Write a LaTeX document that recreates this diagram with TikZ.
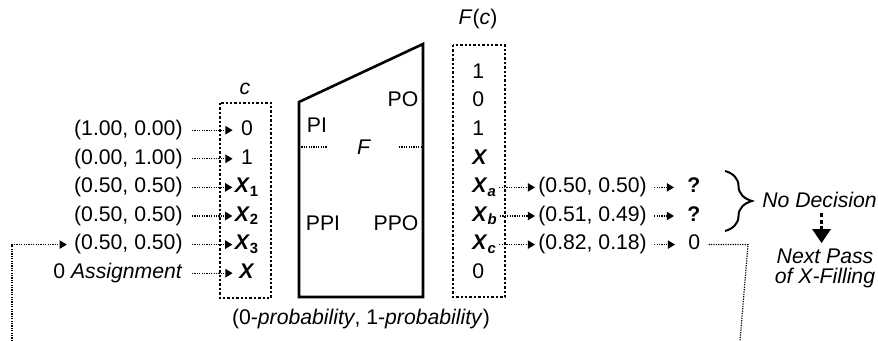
\documentclass[tikz,border=0pt]{standalone}
\usepackage{fontspec}
\setmainfont{Liberation Sans}
\usetikzlibrary{arrows.meta,decorations.pathreplacing}
\newcommand{\bX}{\textbf{\textit{X}}}
\begin{document}
\begin{tikzpicture}[x=0.5pt,y=-0.5pt,
  every node/.style={font=\fontsize{10.6}{10}\selectfont, inner sep=0pt},
  row/.style={text height=7.6pt, text depth=2.2pt},
  lval/.style={row, minimum width=12pt, anchor=center},
  rval/.style={row, anchor=west},
  dotln/.style={line width=0.6pt, dash pattern=on 0.6pt off 0.6pt},
  dotarr/.style={dotln, -{Triangle[width=4.2pt,length=3.6pt]}},
  dotbox/.style={line width=1.2pt, dash pattern=on 1.2pt off 1pt},
  thinsep/.style={line width=0.6pt, dash pattern=on 0.6pt off 0.6pt}
]
\useasboundingbox (0,0) rectangle (878,341);

% ---- left labels
\node[row, anchor=east] (l1) at (183,130.2) {(1.00, 0.00)};
\node[row, anchor=east] (l2) at (183,158.8) {(0.00, 1.00)};
\node[row, anchor=east] (l3) at (183,187.4) {(0.50, 0.50)};
\node[row, anchor=east] (l4) at (183,216.0) {(0.50, 0.50)};
\node[row, anchor=east] (l5) at (183,244.6) {(0.50, 0.50)};
\node[row, anchor=east] (l6) at (183,273.2) {0 \textit{Assignment}};

% ---- left box c
\draw[dotbox] (220,103) rectangle (271,298);
\node (clab) at (245,89) {\textit{c}};
\node[lval] (v1) at (247,130.2) {0};
\node[lval] (v2) at (247,158.8) {1};
\node[lval] (v3) at (247,187.4) {\bX\textsubscript{\textbf{1}}};
\node[lval] (v4) at (247,216.0) {\bX\textsubscript{\textbf{2}}};
\node[lval] (v5) at (247,244.6) {\bX\textsubscript{\textbf{3}}};
\node[lval] (v6) at (247,273.2) {\bX};

\foreach \i in {1,...,6}{
  \draw[dotarr] ([xshift=4.5pt]l\i.east) -- ([xshift=-1pt]l\i.east -| v\i.west);
}

% ---- circuit F
\draw[line width=1.3pt, line join=miter] (299,297) -- (299,102) -- (423,44) -- (423,297) -- cycle;
\node (pi) at (317,125) {PI};
\node (po) at (403,99) {PO};
\node (f) at (364,147) {\textit{F}};
\node (ppi) at (323,223) {PPI};
\node (ppo) at (396,223) {PPO};
\draw[thinsep] (299,147) -- (327,147);
\draw[thinsep] (399,147) -- (423,147);
\node (cap) at (361,319) {(0-\textit{probability}, 1-\textit{probability})};

% ---- right box F(c)
\draw[dotbox] (453,45) rectangle (505,297);
\node (fclab) at (478,19) {\textit{F}(\textit{c})};
\node[rval] (r0) at (472,73.0) {1};
\node[rval] (r1) at (472,101.6) {0};
\node[rval] (r2) at (472,130.2) {1};
\node[rval] (r3) at (472,158.8) {\bX};
\node[rval] (ra) at (472,187.4) {\bX\textsubscript{\textbf{\textit{a}}}};
\node[rval] (rb) at (472,216.0) {\bX\textsubscript{\textbf{\textit{b}}}};
\node[rval] (rc) at (472,244.6) {\bX\textsubscript{\textbf{\textit{c}}}};
\node[rval] (r7) at (472,273.2) {0};

% ---- probabilities and decisions
\node[rval] (pa) at (538,187.4) {(0.50, 0.50)};
\node[rval] (pb) at (538,216.0) {(0.51, 0.49)};
\node[rval] (pc) at (538,244.6) {(0.82, 0.18)};
\node[rval] (qa) at (687,187.4) {\textbf{?}};
\node[rval] (qb) at (687,216.0) {\textbf{?}};
\node[rval] (qc) at (688,244.6) {0};

\foreach \s in {a,b,c}{
  \draw[dotarr] ([xshift=1pt]r\s.east) -- ([xshift=-1.5pt]r\s.east -| p\s.west);
}
\draw[dotarr] ([xshift=3.5pt]pa.east) -- ([xshift=-6.5pt]pa.east -| qa.west);
\draw[dotarr] ([xshift=3.5pt]pb.east) -- ([xshift=-6.5pt]pb.east -| qb.west);
\draw[dotarr] ([xshift=3.5pt]pc.east) -- ([xshift=-6.5pt]pc.east -| qc.west);

% ---- feedback
\coordinate (fbR) at (740,341);
\coordinate (fbL) at (12,341);
\draw[dotln] ([xshift=4pt]qc.east) -- ([xshift=4pt]qc.east -| fbR) -- (fbR);
\draw[dotarr] (fbL) |- ([xshift=-3.5pt]l5.west);

% ---- brace and next pass
\draw[line width=1pt, decorate, decoration={brace, amplitude=13.5pt}] (725,171) -- (725,231);
\node[row, anchor=west] (nd) at (762,202) {\textit{No Decision}};
\node[align=center, font=\fontsize{10.6}{10}\selectfont\itshape] (np) at (825,268) {Next Pass\\of X-Filling};
\draw[line width=1.5pt, dash pattern=on 2pt off 1.2pt, -{Triangle[width=9pt,length=7pt]}, shorten <=0.5pt, shorten >=2.5pt]
  ([xshift=1pt]nd.south) -- ([xshift=1pt]nd.south |- np.north);
\end{tikzpicture}
\end{document}
